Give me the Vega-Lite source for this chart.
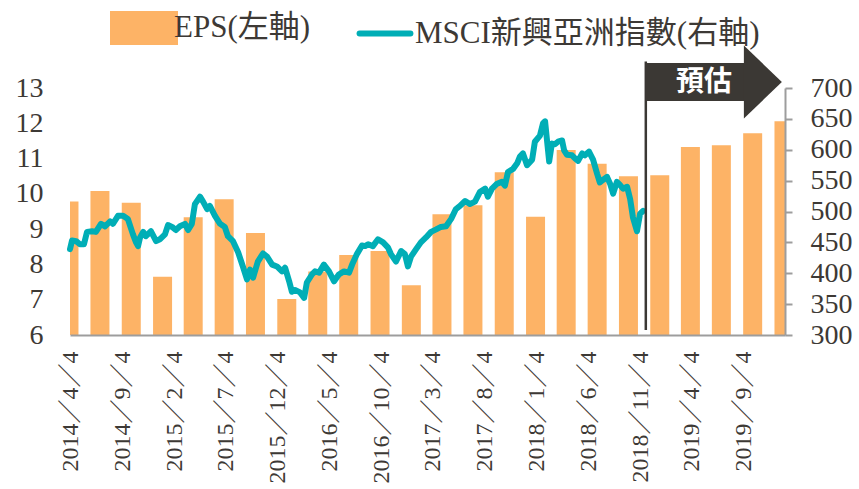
{
  "$schema": "https://vega.github.io/schema/vega-lite/v6.json",
  "width": 715,
  "height": 247,
  "autosize": {"type": "none"},
  "padding": {"left": 70, "top": 88, "right": 74, "bottom": 154},
  "background": "#ffffff",
  "config": {
    "view": {"stroke": null},
    "axis": {"grid": false, "title": null, "labelFont": "'Liberation Serif', serif", "labelColor": "#3d3935", "labelFlush": false, "labelOverlap": false, "labelBound": false},
    "legend": {
      "orient": "none", "legendX": 40, "legendY": -94, "direction": "horizontal",
      "labelFont": "'Liberation Serif', 'Noto Sans CJK TC', serif", "labelFontSize": 31, "labelColor": "#3d3935",
      "symbolSize": 3844, "columnPadding": 36, "labelOffset": -4, "labelLimit": 800, "padding": 0
    }
  },
  "datasets": {
    "eps": [
      {"date": "2014-03-31", "eps": 9.78}, {"date": "2014-06-30", "eps": 10.08}, {"date": "2014-09-30", "eps": 9.75}, {"date": "2014-12-31", "eps": 7.65},
      {"date": "2015-03-31", "eps": 9.34}, {"date": "2015-06-30", "eps": 9.85}, {"date": "2015-09-30", "eps": 8.89}, {"date": "2015-12-31", "eps": 7.02},
      {"date": "2016-03-31", "eps": 7.8}, {"date": "2016-06-30", "eps": 8.27}, {"date": "2016-09-30", "eps": 8.38}, {"date": "2016-12-31", "eps": 7.41},
      {"date": "2017-03-31", "eps": 9.42}, {"date": "2017-06-30", "eps": 9.68}, {"date": "2017-09-30", "eps": 10.61}, {"date": "2017-12-31", "eps": 9.35},
      {"date": "2018-03-31", "eps": 11.24}, {"date": "2018-06-30", "eps": 10.85}, {"date": "2018-09-30", "eps": 10.5}, {"date": "2018-12-31", "eps": 10.53},
      {"date": "2019-03-31", "eps": 11.33}, {"date": "2019-06-30", "eps": 11.38}, {"date": "2019-09-30", "eps": 11.72}, {"date": "2019-12-31", "eps": 12.06}
    ],
    "msci": [
      {"date": "2014-04-03", "msci": 439}, {"date": "2014-04-09", "msci": 453}, {"date": "2014-04-21", "msci": 452}, {"date": "2014-05-02", "msci": 447},
      {"date": "2014-05-14", "msci": 447}, {"date": "2014-05-23", "msci": 467}, {"date": "2014-06-07", "msci": 468}, {"date": "2014-06-18", "msci": 467},
      {"date": "2014-07-03", "msci": 480}, {"date": "2014-07-15", "msci": 476}, {"date": "2014-07-30", "msci": 484}, {"date": "2014-08-07", "msci": 480},
      {"date": "2014-08-22", "msci": 493}, {"date": "2014-09-06", "msci": 493}, {"date": "2014-09-20", "msci": 488}, {"date": "2014-10-05", "msci": 463},
      {"date": "2014-10-14", "msci": 450}, {"date": "2014-10-20", "msci": 444}, {"date": "2014-10-26", "msci": 458}, {"date": "2014-11-04", "msci": 467},
      {"date": "2014-11-12", "msci": 460}, {"date": "2014-11-27", "msci": 468}, {"date": "2014-12-12", "msci": 452}, {"date": "2014-12-23", "msci": 455},
      {"date": "2015-01-07", "msci": 463}, {"date": "2015-01-16", "msci": 478}, {"date": "2015-01-28", "msci": 475}, {"date": "2015-02-08", "msci": 470},
      {"date": "2015-02-20", "msci": 476}, {"date": "2015-03-07", "msci": 480}, {"date": "2015-03-16", "msci": 470}, {"date": "2015-03-27", "msci": 480},
      {"date": "2015-04-05", "msci": 512}, {"date": "2015-04-20", "msci": 524}, {"date": "2015-04-29", "msci": 516}, {"date": "2015-05-11", "msci": 504},
      {"date": "2015-05-19", "msci": 509}, {"date": "2015-06-03", "msci": 493}, {"date": "2015-06-18", "msci": 480}, {"date": "2015-07-02", "msci": 475},
      {"date": "2015-07-11", "msci": 460}, {"date": "2015-07-26", "msci": 452}, {"date": "2015-08-10", "msci": 434}, {"date": "2015-08-24", "msci": 411},
      {"date": "2015-09-05", "msci": 390}, {"date": "2015-09-14", "msci": 406}, {"date": "2015-09-23", "msci": 393}, {"date": "2015-10-07", "msci": 419},
      {"date": "2015-10-22", "msci": 432}, {"date": "2015-11-03", "msci": 427}, {"date": "2015-11-18", "msci": 414}, {"date": "2015-12-02", "msci": 411},
      {"date": "2015-12-17", "msci": 403}, {"date": "2015-12-26", "msci": 409}, {"date": "2016-01-07", "msci": 387}, {"date": "2016-01-15", "msci": 370},
      {"date": "2016-01-24", "msci": 373}, {"date": "2016-02-08", "msci": 369}, {"date": "2016-02-20", "msci": 360}, {"date": "2016-02-28", "msci": 385},
      {"date": "2016-03-14", "msci": 398}, {"date": "2016-03-23", "msci": 403}, {"date": "2016-04-04", "msci": 401}, {"date": "2016-04-18", "msci": 414},
      {"date": "2016-05-03", "msci": 403}, {"date": "2016-05-18", "msci": 387}, {"date": "2016-06-01", "msci": 398}, {"date": "2016-06-16", "msci": 403},
      {"date": "2016-07-01", "msci": 401}, {"date": "2016-07-10", "msci": 414}, {"date": "2016-07-24", "msci": 431}, {"date": "2016-08-08", "msci": 445},
      {"date": "2016-08-17", "msci": 444}, {"date": "2016-08-26", "msci": 447}, {"date": "2016-09-09", "msci": 444}, {"date": "2016-09-24", "msci": 455},
      {"date": "2016-10-09", "msci": 450}, {"date": "2016-10-23", "msci": 442}, {"date": "2016-11-01", "msci": 431}, {"date": "2016-11-16", "msci": 419},
      {"date": "2016-12-01", "msci": 436}, {"date": "2016-12-12", "msci": 431}, {"date": "2016-12-21", "msci": 411}, {"date": "2016-12-30", "msci": 427},
      {"date": "2017-01-14", "msci": 439}, {"date": "2017-01-28", "msci": 450}, {"date": "2017-02-12", "msci": 458}, {"date": "2017-02-27", "msci": 467},
      {"date": "2017-03-14", "msci": 471}, {"date": "2017-03-28", "msci": 475}, {"date": "2017-04-12", "msci": 476}, {"date": "2017-04-27", "msci": 488},
      {"date": "2017-05-11", "msci": 504}, {"date": "2017-05-23", "msci": 509}, {"date": "2017-06-07", "msci": 517}, {"date": "2017-06-21", "msci": 512},
      {"date": "2017-07-06", "msci": 516}, {"date": "2017-07-21", "msci": 532}, {"date": "2017-08-05", "msci": 537}, {"date": "2017-08-13", "msci": 524},
      {"date": "2017-08-25", "msci": 537}, {"date": "2017-09-09", "msci": 545}, {"date": "2017-09-23", "msci": 548}, {"date": "2017-10-02", "msci": 542},
      {"date": "2017-10-11", "msci": 564}, {"date": "2017-10-26", "msci": 569}, {"date": "2017-11-07", "msci": 578}, {"date": "2017-11-15", "msci": 589},
      {"date": "2017-11-24", "msci": 594}, {"date": "2017-12-06", "msci": 575}, {"date": "2017-12-21", "msci": 584}, {"date": "2017-12-29", "msci": 613},
      {"date": "2018-01-13", "msci": 623}, {"date": "2018-01-22", "msci": 643}, {"date": "2018-01-28", "msci": 646}, {"date": "2018-02-09", "msci": 581},
      {"date": "2018-02-17", "msci": 610}, {"date": "2018-02-26", "msci": 609}, {"date": "2018-03-07", "msci": 613}, {"date": "2018-03-19", "msci": 615},
      {"date": "2018-03-25", "msci": 599}, {"date": "2018-04-02", "msci": 592}, {"date": "2018-04-17", "msci": 591}, {"date": "2018-04-26", "msci": 586},
      {"date": "2018-05-05", "msci": 582}, {"date": "2018-05-17", "msci": 594}, {"date": "2018-05-25", "msci": 591}, {"date": "2018-06-06", "msci": 597},
      {"date": "2018-06-18", "msci": 584}, {"date": "2018-06-30", "msci": 561}, {"date": "2018-07-08", "msci": 547}, {"date": "2018-07-17", "msci": 551},
      {"date": "2018-07-29", "msci": 556}, {"date": "2018-08-07", "msci": 545}, {"date": "2018-08-16", "msci": 529}, {"date": "2018-08-27", "msci": 548},
      {"date": "2018-09-05", "msci": 543}, {"date": "2018-09-14", "msci": 537}, {"date": "2018-09-26", "msci": 540}, {"date": "2018-10-05", "msci": 520},
      {"date": "2018-10-13", "msci": 491}, {"date": "2018-10-25", "msci": 468}, {"date": "2018-11-03", "msci": 496}, {"date": "2018-11-12", "msci": 501}
    ]
  },
  "layer": [
    {
      "data": {"name": "eps"},
      "mark": {"type": "bar", "size": 19, "clip": true},
      "encoding": {
        "x": {
          "field": "date", "type": "temporal", "title": null,
          "scale": {"type": "utc", "padding": 0, "domain": [{"year": 2014, "month": 4, "date": 3, "utc": true}, {"year": 2020, "month": 1, "date": 3, "utc": true}]},
          "axis": {
            "values": [
              {"year": 2014, "month": 4, "date": 4, "utc": true}, {"year": 2014, "month": 9, "date": 4, "utc": true},
              {"year": 2015, "month": 2, "date": 4, "utc": true}, {"year": 2015, "month": 7, "date": 4, "utc": true},
              {"year": 2015, "month": 12, "date": 4, "utc": true}, {"year": 2016, "month": 5, "date": 4, "utc": true},
              {"year": 2016, "month": 10, "date": 4, "utc": true}, {"year": 2017, "month": 3, "date": 4, "utc": true},
              {"year": 2017, "month": 8, "date": 4, "utc": true}, {"year": 2018, "month": 1, "date": 4, "utc": true},
              {"year": 2018, "month": 6, "date": 4, "utc": true}, {"year": 2018, "month": 11, "date": 4, "utc": true},
              {"year": 2019, "month": 4, "date": 4, "utc": true}, {"year": 2019, "month": 9, "date": 4, "utc": true}
            ],
            "labelExpr": "utcFormat(datum.value, '%Y／%-m／%-d')",
            "labelAngle": 270, "labelFont": "'Liberation Serif', 'Noto Sans CJK TC', serif", "labelFontSize": 24,
            "labelPadding": 16, "ticks": false, "tickSize": 0, "labelOverlap": false,
            "domain": true, "domainColor": "#9d9d9d", "domainWidth": 2, "zindex": 1, "title": null
          }
        },
        "y": {
          "field": "eps", "type": "quantitative", "title": null,
          "scale": {"domain": [6, 13], "nice": false, "zero": false},
          "axis": {"orient": "left", "values": [6, 7, 8, 9, 10, 11, 12, 13], "tickCount": 8, "domain": false, "ticks": false, "tickSize": 0, "labelPadding": 27, "labelFont": "'Liberation Serif', serif", "labelFontSize": 28, "labelOverlap": false, "labelFlush": false, "title": null}
        },
        "y2": {"datum": 6},
        "color": {
          "datum": "EPS(左軸)", "type": "nominal",
          "scale": {"domain": ["EPS(左軸)", "MSCI新興亞洲指數(右軸)"], "range": ["#FDB366", "#00AEB6"]},
          "legend": {
            "title": null,
            "encode": {
              "symbols": {
                "update": {
                  "shape": {"signal": "datum.value == 'EPS(左軸)' ? 'M -1 -0.45 L 1 -0.45 L 1 0.45 L -1 0.45 Z' : 'M -0.82 0 L 0.82 0'"},
                  "size": {"value": 3844},
                  "fill": {"signal": "datum.value == 'EPS(左軸)' ? '#FDB366' : 'transparent'"},
                  "stroke": {"signal": "datum.value == 'EPS(左軸)' ? 'transparent' : '#00AEB6'"},
                  "strokeWidth": {"value": 6},
                  "strokeCap": {"value": "round"},
                  "opacity": {"value": 1}
                }
              }
            }
          }
        }
      }
    },
    {
      "data": {"name": "msci"},
      "mark": {"type": "line", "strokeWidth": 6, "strokeJoin": "round", "strokeCap": "round"},
      "encoding": {
        "x": {"field": "date", "type": "temporal", "title": null},
        "y": {
          "field": "msci", "type": "quantitative", "title": null,
          "scale": {"domain": [300, 700], "nice": false, "zero": false},
          "axis": {"orient": "right", "values": [300, 350, 400, 450, 500, 550, 600, 650, 700], "domain": true, "domainColor": "#9d9d9d", "domainWidth": 2, "ticks": true, "tickColor": "#9d9d9d", "tickWidth": 2, "tickSize": 7, "labelPadding": 18, "labelFont": "'Liberation Serif', serif", "labelFontSize": 28, "labelOverlap": false, "labelFlush": false, "zindex": 1, "title": null}
        },
        "color": {"datum": "MSCI新興亞洲指數(右軸)", "type": "nominal"}
      }
    },
    {
      "data": {"values": [{"date": "2018-11-20", "lo": 6.14, "hi": 13.75}]},
      "mark": {"type": "rule", "color": "#3b3834", "strokeWidth": 2.5},
      "encoding": {
        "x": {"field": "date", "type": "temporal", "title": null},
        "y": {"field": "lo", "type": "quantitative", "title": null, "axis": null, "scale": {"domain": [6, 13], "nice": false, "zero": false}},
        "y2": {"field": "hi"}
      }
    },
    {
      "data": {"values": [{"start": "2018-11-20", "end": "2019-09-05", "lo": 12.63, "hi": 13.71}]},
      "mark": {"type": "rect", "color": "#3b3834"},
      "encoding": {
        "x": {"field": "start", "type": "temporal", "title": null},
        "x2": {"field": "end"},
        "y": {"field": "lo", "type": "quantitative", "title": null, "axis": null, "scale": {"domain": [6, 13], "nice": false, "zero": false}},
        "y2": {"field": "hi"}
      }
    },
    {
      "data": {"values": [{"date": "2019-10-30", "v": 13.17}]},
      "mark": {"type": "point", "shape": "M -0.52 -1 L 0.52 0 L -0.52 1 Z", "size": 5329, "filled": true, "color": "#3b3834", "opacity": 1, "strokeWidth": 0},
      "encoding": {
        "x": {"field": "date", "type": "temporal", "title": null},
        "y": {"field": "v", "type": "quantitative", "title": null, "axis": null, "scale": {"domain": [6, 13], "nice": false, "zero": false}}
      }
    },
    {
      "data": {"values": [{"date": "2019-05-10", "v": 13.14, "label": "預估"}]},
      "mark": {"type": "text", "font": "Noto Sans CJK TC", "fontSize": 28, "fontWeight": "bold", "color": "#ffffff", "align": "center", "baseline": "middle"},
      "encoding": {
        "x": {"field": "date", "type": "temporal", "title": null},
        "y": {"field": "v", "type": "quantitative", "title": null, "axis": null, "scale": {"domain": [6, 13], "nice": false, "zero": false}},
        "text": {"field": "label"}
      }
    }
  ],
  "resolve": {"scale": {"y": "independent"}}
}
